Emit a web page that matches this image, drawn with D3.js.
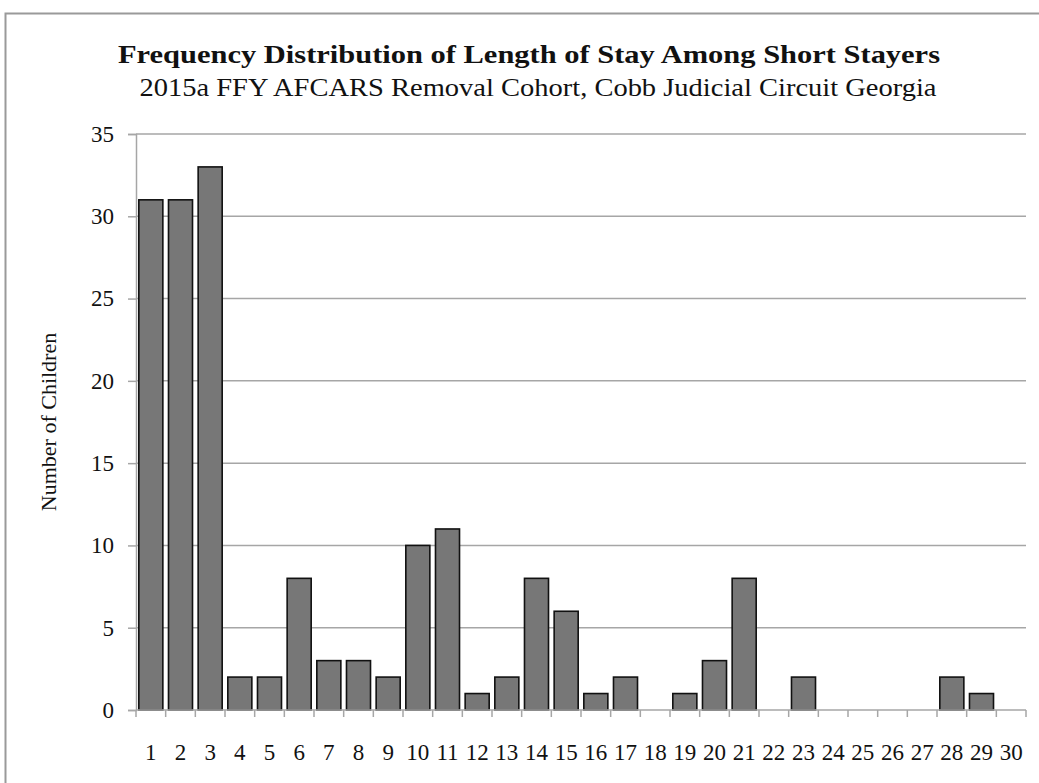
<!DOCTYPE html>
<html><head><meta charset="utf-8">
<script src="https://cdn.jsdelivr.net/npm/d3@7/dist/d3.min.js"></script>
<style>body{margin:0;background:#fff;} svg{display:block;}</style>
</head><body>
<svg id="c" width="1039" height="783"></svg>
<script>
const categories = d3.range(1, 31).map(String);
const values = [31,31,33,2,2,8,3,3,2,10,11,1,2,8,6,1,2,0,1,3,8,0,2,0,0,0,0,2,1,0];
const yTicks = [0,5,10,15,20,25,30,35];
const titleText = "Frequency Distribution of Length of Stay Among Short Stayers";
const subtitleText = "2015a FFY AFCARS Removal Cohort, Cobb Judicial Circuit Georgia";
const yLabel = "Number of Children";

const svg = d3.select("#c");
const font = "'Liberation Serif', 'DejaVu Serif', serif";
const m = {left:136, right:1026, top:134, bottom:710};

// outer border
svg.append("rect").attr("x",5.5).attr("y",13.5).attr("width",1040).attr("height",800)
  .attr("fill","none").attr("stroke","#9a9a9a").attr("stroke-width",2);

const x = d3.scaleBand().domain(categories).range([m.left, m.right]).paddingInner(0.19).paddingOuter(0.095);
const xb = d3.scaleBand().domain(categories).range([m.left, m.right]);
const y = d3.scaleLinear().domain([0,35]).range([m.bottom, m.top]);

// gridlines
svg.append("g").selectAll("line").data(yTicks.filter(d=>d>0)).join("line")
  .attr("x1", m.left).attr("x2", m.right).attr("y1", d=>y(d)).attr("y2", d=>y(d))
  .attr("stroke","#a6a6a6").attr("stroke-width",1.5);

// bars
const barData = values.map((v,i)=>({c:categories[i],v})).filter(d=>d.v>0);
svg.append("g").selectAll("rect").data(barData)
  .join("rect")
  .attr("x", d=>x(d.c)).attr("width", x.bandwidth())
  .attr("y", d=>y(d.v)).attr("height", d=>y(0)-y(d.v))
  .attr("fill","#777777").attr("stroke","#111").attr("stroke-width",1.6);

// y axis
const ya = svg.append("g").attr("transform",`translate(${m.left},0)`)
  .call(d3.axisLeft(y).tickValues(yTicks).tickSize(8).tickPadding(14));
ya.select(".domain").attr("stroke","#a6a6a6").attr("stroke-width",1.5);
ya.selectAll(".tick line").attr("stroke","#a6a6a6").attr("stroke-width",1.5);
ya.selectAll("text").attr("font-family",font).attr("font-size",23).attr("fill","#111");

// x axis
const xa = svg.append("g").attr("transform",`translate(0,${m.bottom})`);
xa.append("line").attr("x1",m.left).attr("x2",m.right).attr("stroke","#a6a6a6").attr("stroke-width",1.5);
const bounds = categories.map(c=>xb(c)).concat([m.right]);
xa.selectAll("line.t").data(bounds).join("line").attr("class","t")
  .attr("x1",d=>d).attr("x2",d=>d).attr("y1",0).attr("y2",7)
  .attr("stroke","#a6a6a6").attr("stroke-width",1.5);
xa.selectAll("text").data(categories).join("text")
  .attr("x", d=>xb(d)+xb.bandwidth()/2).attr("y", 50)
  .attr("text-anchor","middle").attr("font-family",font).attr("font-size",23).attr("fill","#111")
  .text(d=>d);

// titles
svg.append("text").attr("x",529).attr("y",63).attr("text-anchor","middle")
  .attr("font-family",font).attr("font-weight","bold").attr("font-size",26).attr("fill","#111")
  .attr("textLength",822).attr("lengthAdjust","spacingAndGlyphs").text(titleText);
svg.append("text").attr("x",538).attr("y",96).attr("text-anchor","middle")
  .attr("font-family",font).attr("font-size",26).attr("fill","#111")
  .attr("textLength",797).attr("lengthAdjust","spacingAndGlyphs").text(subtitleText);
svg.append("text").attr("transform","translate(56,422) rotate(-90)").attr("text-anchor","middle")
  .attr("font-family",font).attr("font-size",22).attr("fill","#111").text(yLabel);
</script>
</body></html>
